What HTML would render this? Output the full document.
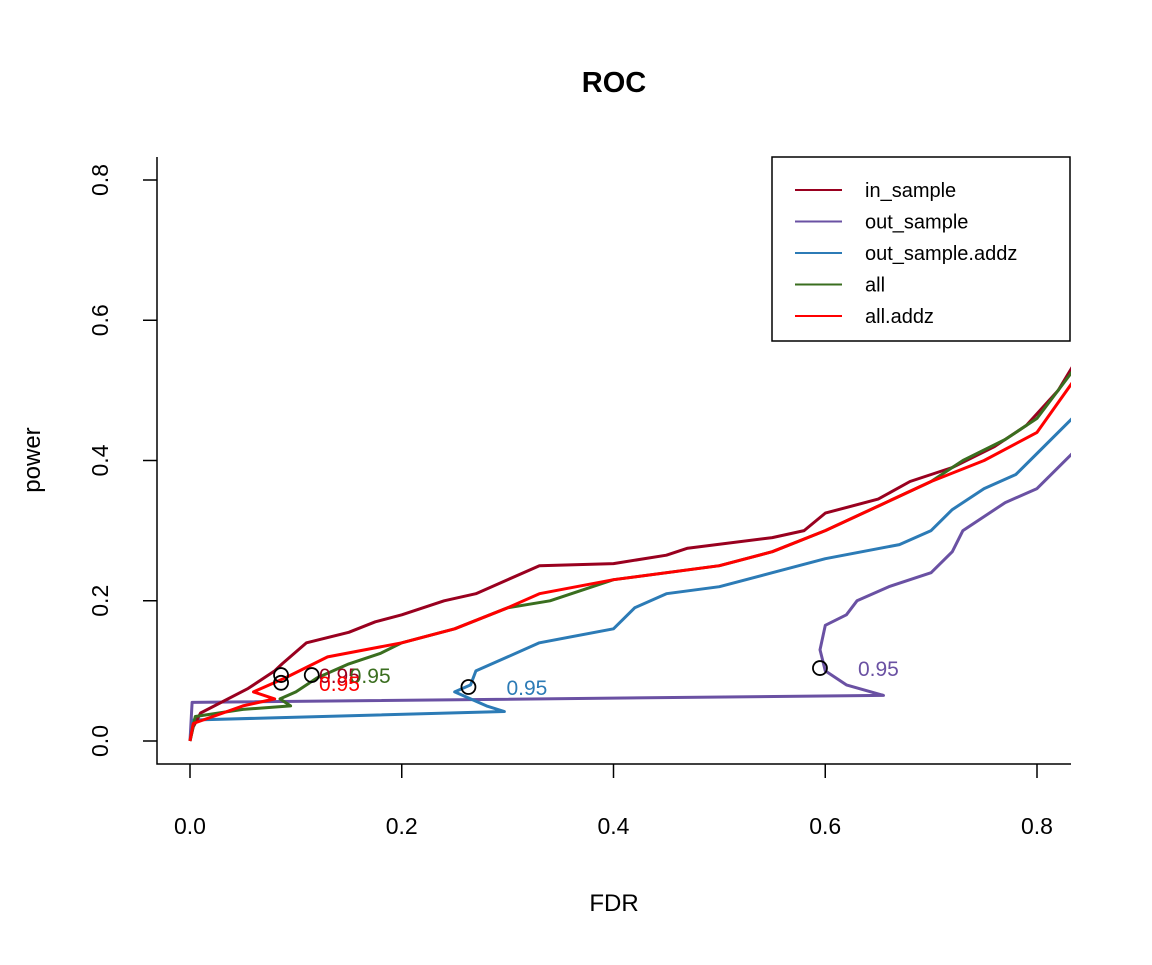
<!DOCTYPE html>
<html><head><meta charset="utf-8"><style>body{margin:0;background:#fff}svg{font-family:"Liberation Sans",Arial,sans-serif}</style></head>
<body>
<svg id="c" width="1152" height="960" xmlns="http://www.w3.org/2000/svg"></svg>
<script>
const xTicks=[0,0.2,0.4,0.6,0.8];
const yTicks=[0,0.2,0.4,0.6,0.8];
const seriesNames=["in_sample","out_sample","out_sample.addz","all","all.addz"];
const seriesColors=["#99001F","#6A51A3","#2C7BB6","#3A6E1F","#FF0000"];
const inSampleX=[0,0.003,0.01,0.055,0.08,0.087,0.11,0.15,0.175,0.2,0.24,0.27,0.3,0.33,0.4,0.45,0.47,0.55,0.58,0.6,0.65,0.68,0.72,0.76,0.79,0.82,0.84];
const inSampleY=[0,0.02,0.04,0.075,0.1,0.11,0.14,0.155,0.17,0.18,0.2,0.21,0.23,0.25,0.253,0.265,0.275,0.29,0.3,0.325,0.345,0.37,0.39,0.42,0.45,0.5,0.55];
const outSampleX=[0,0.002,0.655,0.62,0.6,0.595,0.6,0.62,0.63,0.66,0.7,0.72,0.73,0.77,0.8,0.84];
const outSampleY=[0,0.055,0.065,0.08,0.1,0.13,0.165,0.18,0.2,0.22,0.24,0.27,0.3,0.34,0.36,0.42];
const outAddzX=[0,0.003,0.297,0.28,0.25,0.265,0.27,0.3,0.33,0.4,0.42,0.45,0.5,0.55,0.6,0.67,0.7,0.72,0.75,0.78,0.8,0.84];
const outAddzY=[0,0.03,0.042,0.05,0.07,0.08,0.1,0.12,0.14,0.16,0.19,0.21,0.22,0.24,0.26,0.28,0.3,0.33,0.36,0.38,0.41,0.47];
const allX=[0,0.005,0.05,0.095,0.085,0.1,0.12,0.15,0.18,0.2,0.25,0.3,0.34,0.4,0.5,0.55,0.6,0.65,0.7,0.73,0.77,0.8,0.84];
const allY=[0,0.035,0.045,0.05,0.06,0.07,0.09,0.11,0.125,0.14,0.16,0.19,0.2,0.23,0.25,0.27,0.3,0.335,0.37,0.4,0.43,0.46,0.54];
const allAddzX=[0,0.003,0.05,0.08,0.06,0.09,0.13,0.2,0.25,0.3,0.33,0.4,0.5,0.55,0.6,0.65,0.7,0.75,0.8,0.84];
const allAddzY=[0,0.025,0.05,0.06,0.07,0.09,0.12,0.14,0.16,0.19,0.21,0.23,0.25,0.27,0.3,0.335,0.37,0.4,0.44,0.525];
const markX=[0.086,0.595,0.263,0.115,0.086];
const markY=[0.094,0.104,0.077,0.094,0.083];
const markLabel=["0.95","0.95","0.95","0.95","0.95"];

const NS="http://www.w3.org/2000/svg";
const svg=document.getElementById('c');
const sx=v=>190+v*1058.75, sy=v=>741-v*701.25;
function el(t,a,p){const e=document.createElementNS(NS,t);for(const k in a)e.setAttribute(k,a[k]);(p||svg).appendChild(e);return e;}
function txt(s,a,p){const e=el('text',a,p);e.textContent=s;return e;}

const clip=el('clipPath',{id:'pc'});el('rect',{x:157,y:157,width:914,height:607},clip);

let t=txt("ROC",{x:614,y:92,'text-anchor':'middle','font-size':29,'font-weight':'bold'});

t=txt("FDR",{x:614,y:911,'text-anchor':'middle','font-size':24});

t=txt("power",{x:0,y:0,'text-anchor':'middle','font-size':24,transform:'translate(40,460) rotate(-90)'});


let ax=el('path',{d:`M157,157V764H1071`,fill:'none',stroke:'#000','stroke-width':1.5});

xTicks.forEach(v=>{
  el('line',{x1:sx(v),x2:sx(v),y1:764,y2:778,stroke:'#000','stroke-width':1.5});
  const e=txt(v.toFixed(1),{x:sx(v),y:834,'text-anchor':'middle','font-size':23});
  
});
yTicks.forEach(v=>{
  el('line',{x1:143,x2:157,y1:sy(v),y2:sy(v),stroke:'#000','stroke-width':1.5});
  const e=txt(v.toFixed(1),{x:0,y:0,'text-anchor':'middle','font-size':23,transform:`translate(108,${sy(v)}) rotate(-90)`});
  
});

const g=el('g',{'clip-path':'url(#pc)'});
const xs=[inSampleX,outSampleX,outAddzX,allX,allAddzX], ys=[inSampleY,outSampleY,outAddzY,allY,allAddzY];
const order=[1,2,0,3,4];
order.forEach(i=>{
  const d=xs[i].map((x,j)=>(j?'L':'M')+sx(x).toFixed(1)+','+sy(ys[i][j]).toFixed(1)).join('');
  const p=el('path',{d,fill:'none',stroke:seriesColors[i],'stroke-width':3,'stroke-linejoin':'round'},g);
  
  
});
markX.forEach((x,i)=>{
  const c=el('circle',{cx:sx(x),cy:sy(markY[i]),r:7,fill:'none',stroke:'#000','stroke-width':1.8});
  
  const l=txt(markLabel[i],{x:sx(x)+38,y:sy(markY[i])+8,'font-size':21,fill:seriesColors[i]});
  
});

const lg=el('g',{});

el('rect',{x:772,y:157,width:298,height:184,fill:'#fff',stroke:'#000','stroke-width':1.5},lg);
seriesNames.forEach((n,i)=>{
  const y=190+i*31.5;
  el('line',{x1:795,x2:842,y1:y,y2:y,stroke:seriesColors[i],'stroke-width':2},lg);
  const e=txt(n,{x:865,y:y+7,'font-size':20},lg);
  
});
</script>
</body></html>
